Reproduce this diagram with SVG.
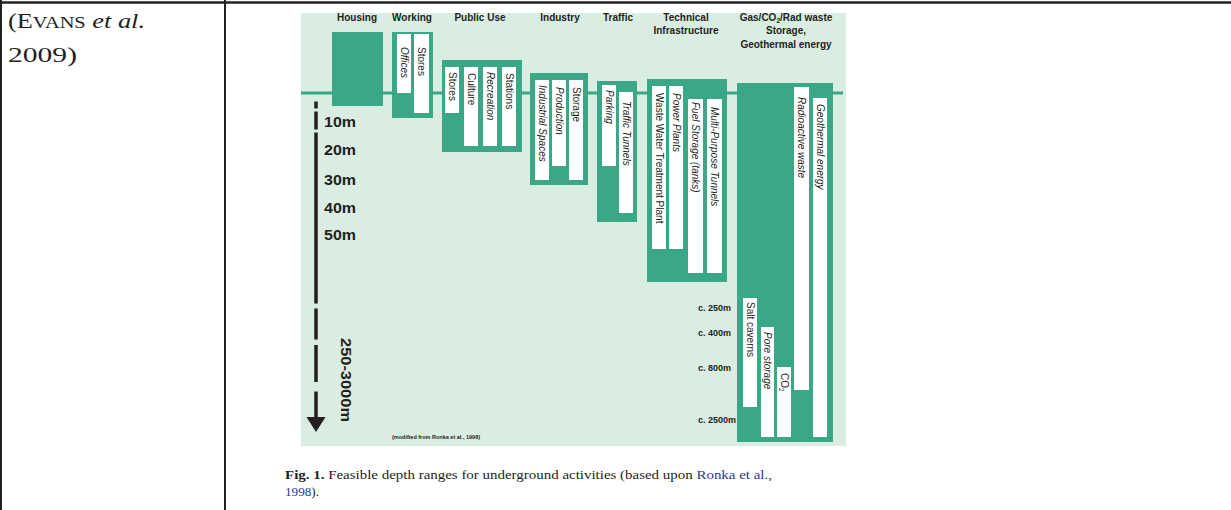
<svg xmlns="http://www.w3.org/2000/svg" width="1231" height="510" viewBox="0 0 1231 510">
  <style>
    .rule { stroke: #231f20; fill: none; }
    .blk { fill: #3aa887; }
    .col { fill: #ffffff; }
    .hd { font-family: "Liberation Sans", Arial, sans-serif; font-weight: bold; font-size: 10px; fill: #231f20; text-anchor: middle; }
    .lbl { font-family: "Liberation Sans", Arial, sans-serif; font-size: 10px; fill: #231f20; }
    .it { font-style: italic; }
    .depth { font-family: "Liberation Sans", Arial, sans-serif; font-weight: bold; font-size: 9px; fill: #231f20; text-anchor: end; }
    .axis { font-family: "Liberation Sans", Arial, sans-serif; font-weight: bold; font-size: 14px; fill: #231f20; }
    .cap { font-family: "Liberation Serif", "Times New Roman", serif; font-size: 13.5px; fill: #231f20; }
    .ref { fill: #2b3a8c; }
    .cite { font-family: "Liberation Serif", "Times New Roman", serif; font-size: 22px; fill: #231f20; }
  </style>

  <!-- table rules -->
  <g id="table">
    <line class="rule" x1="0" y1="2.5" x2="1231" y2="2.5" stroke-width="2.5"/>
    <line class="rule" x1="1" y1="0" x2="1" y2="510" stroke-width="2"/>
    <line class="rule" x1="225" y1="0" x2="225" y2="510" stroke-width="2"/>
  </g>

  <!-- citation cell -->
  <g id="citation">
    <text class="cite" x="8" y="28" textLength="137" lengthAdjust="spacingAndGlyphs">(E<tspan font-size="17">VANS</tspan> <tspan font-style="italic">et al.</tspan></text>
    <text class="cite" x="8" y="62" textLength="69" lengthAdjust="spacingAndGlyphs">2009)</text>
  </g>

  <!-- figure panel -->
  <rect id="panel" x="301" y="13" width="545" height="433" fill="#daede3"/>

  <!-- ground surface line -->
  <g id="connectors">
    <line x1="301" y1="93" x2="843" y2="93" stroke="#3aa887" stroke-width="3"/>
  </g>

  <!-- column headings -->
  <g id="headings">
    <text class="hd" x="357" y="21">Housing</text>
    <text class="hd" x="412" y="21">Working</text>
    <text class="hd" x="480" y="21">Public Use</text>
    <text class="hd" x="560" y="21">Industry</text>
    <text class="hd" x="618" y="21">Traffic</text>
    <text class="hd" x="686" y="21">Technical</text>
    <text class="hd" x="686" y="34">Infrastructure</text>
    <text class="hd" x="786" y="21">Gas/CO<tspan font-size="6.5" dy="2">2</tspan><tspan dy="-2">/Rad waste</tspan></text>
    <text class="hd" x="786" y="34">Storage,</text>
    <text class="hd" x="786" y="48">Geothermal energy</text>
  </g>

  <g id="housing">
    <rect class="blk" x="332" y="32" width="51" height="74"/>
  </g>

  <g id="working">
    <rect class="blk" x="392" y="32" width="41" height="86"/>
    <rect class="col" x="397" y="34" width="14" height="59"/>
    <rect class="col" x="414" y="34" width="15" height="79"/>
    <text class="lbl it" transform="translate(400.5,47) rotate(90)">Offices</text>
    <text class="lbl" transform="translate(418,47) rotate(90)">Stores</text>
  </g>

  <g id="public-use">
    <rect class="blk" x="442" y="60" width="80" height="92"/>
    <rect class="col" x="445" y="67" width="14" height="46"/>
    <rect class="col" x="464" y="67" width="14" height="79"/>
    <rect class="col" x="483" y="67" width="14" height="79"/>
    <rect class="col" x="502" y="67" width="14" height="79"/>
    <text class="lbl" transform="translate(448.5,72) rotate(90)">Stores</text>
    <text class="lbl" transform="translate(467.5,73) rotate(90)">Culture</text>
    <text class="lbl it" transform="translate(486.5,72) rotate(90)">Recreation</text>
    <text class="lbl" transform="translate(505.5,73) rotate(90)">Stations</text>
  </g>

  <g id="industry">
    <rect class="blk" x="530" y="73" width="58" height="112"/>
    <rect class="col" x="535" y="80" width="14" height="100"/>
    <rect class="col" x="552" y="80" width="14" height="86"/>
    <rect class="col" x="569" y="80" width="14" height="100"/>
    <text class="lbl it" transform="translate(538.5,85) rotate(90)">Industrial Spaces</text>
    <text class="lbl it" transform="translate(555.5,87) rotate(90)">Production</text>
    <text class="lbl" transform="translate(572.5,87) rotate(90)">Storage</text>
  </g>

  <g id="traffic">
    <rect class="blk" x="597" y="81" width="40" height="141"/>
    <rect class="col" x="602" y="85" width="14" height="81"/>
    <rect class="col" x="619" y="92" width="14" height="121"/>
    <text class="lbl it" transform="translate(605.5,90) rotate(90)">Parking</text>
    <text class="lbl it" transform="translate(622.5,101) rotate(90)">Traffic Tunnels</text>
  </g>

  <g id="technical-infrastructure">
    <rect class="blk" x="647" y="79" width="80" height="203"/>
    <rect class="col" x="652" y="86" width="14" height="163"/>
    <rect class="col" x="669" y="86" width="14" height="163"/>
    <rect class="col" x="688" y="99" width="15" height="174"/>
    <rect class="col" x="707" y="99" width="15" height="174"/>
    <text class="lbl" transform="translate(655.5,93) rotate(90)">Waste Water Treatment Plant</text>
    <text class="lbl it" transform="translate(672.5,93) rotate(90)">Power Plants</text>
    <text class="lbl it" transform="translate(692,102) rotate(90)">Fuel Storage (tanks)</text>
    <text class="lbl it" transform="translate(711,107) rotate(90)">Multi-Purpose Tunnels</text>
  </g>

  <g id="deep-storage">
    <rect class="blk" x="737" y="83" width="96" height="359"/>
    <rect class="col" x="794" y="87" width="15" height="303"/>
    <rect class="col" x="813" y="98" width="14" height="339"/>
    <rect class="col" x="743" y="298" width="14" height="109"/>
    <rect class="col" x="761" y="327" width="13" height="110"/>
    <rect class="col" x="777" y="367" width="14" height="70"/>
    <text class="lbl it" transform="translate(798,97) rotate(90)">Radioactive waste</text>
    <text class="lbl it" transform="translate(816.5,104) rotate(90)">Geothermal energy</text>
    <text class="lbl" transform="translate(746.5,302) rotate(90)">Salt caverns</text>
    <text class="lbl it" transform="translate(764,332) rotate(90)">Pore storage</text>
    <text class="lbl" transform="translate(780.5,373) rotate(90)">CO<tspan font-size="6.5" dy="2">2</tspan></text>
  </g>

  <!-- deep depth marks -->
  <g id="depth-marks">
    <text class="depth" x="731" y="311">c. 250m</text>
    <text class="depth" x="731" y="336">c. 400m</text>
    <text class="depth" x="731" y="371">c. 800m</text>
    <text class="depth" x="736" y="423">c. 2500m</text>
  </g>

  <!-- depth axis -->
  <g id="depth-axis">
    <g stroke="#231f20" stroke-width="3.5" fill="none">
      <line x1="316" y1="101.5" x2="316" y2="108.5"/>
      <line x1="316" y1="111.5" x2="316" y2="129.5"/>
      <line x1="316" y1="132.5" x2="316" y2="303.5"/>
      <line x1="316" y1="308.5" x2="316" y2="339.5"/>
      <line x1="316" y1="345" x2="316" y2="382"/>
      <line x1="316" y1="391.5" x2="316" y2="418"/>
    </g>
    <polygon points="306.5,417 325.5,417 316,432" fill="#231f20"/>
    <text class="axis" x="324" y="127" textLength="32" lengthAdjust="spacingAndGlyphs">10m</text>
    <text class="axis" x="324" y="155" textLength="32" lengthAdjust="spacingAndGlyphs">20m</text>
    <text class="axis" x="324" y="185" textLength="32" lengthAdjust="spacingAndGlyphs">30m</text>
    <text class="axis" x="324" y="213" textLength="32" lengthAdjust="spacingAndGlyphs">40m</text>
    <text class="axis" x="324" y="240" textLength="32" lengthAdjust="spacingAndGlyphs">50m</text>
    <text class="axis" font-size="17" transform="translate(341,338) rotate(90)" textLength="84" lengthAdjust="spacingAndGlyphs">250-3000m</text>
  </g>

  <text x="392" y="439" font-family="'Liberation Sans', Arial, sans-serif" font-weight="bold" font-size="5.5" fill="#231f20">(modified from Ronka et al., 1998)</text>

  <!-- figure caption -->
  <g id="caption">
    <text class="cap" x="285" y="479" textLength="487" lengthAdjust="spacingAndGlyphs"><tspan font-weight="bold">Fig. 1.</tspan>  Feasible depth ranges for underground activities (based upon <tspan class="ref">Ronka et al.,</tspan></text>
    <text class="cap" x="285" y="496" textLength="34" lengthAdjust="spacingAndGlyphs"><tspan class="ref">1998</tspan>).</text>
  </g>
</svg>
